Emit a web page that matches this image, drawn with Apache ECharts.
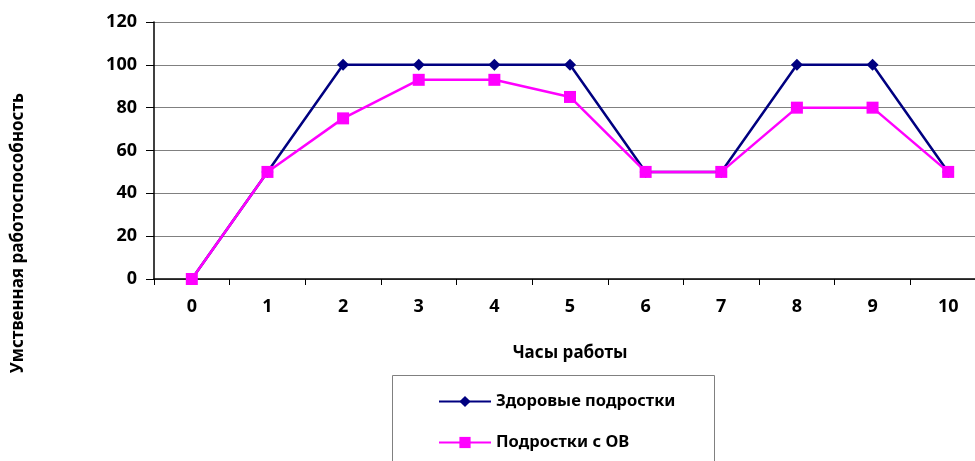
<!DOCTYPE html>
<html><head><meta charset="utf-8">
<script src="https://cdn.jsdelivr.net/npm/echarts@6/dist/echarts.min.js"></script>
<style>html,body{margin:0;padding:0;background:#fff}#c{width:975px;height:461px}</style>
</head><body><div id="c"></div>
<script>
const categories = ['0','1','2','3','4','5','6','7','8','9','10'];
const healthy = [0,50,100,100,100,100,50,50,100,100,50];
const obGroup = [0,50,75,93,93,85,50,50,80,80,50];
const seriesNames = ['Здоровые подростки','Подростки с ОВ'];
const xTitle = 'Часы работы';
const yTitle = 'Умственная работоспособность';
const FONT = '"Noto Sans", "Open Sans", sans-serif';

const legendCommon = {
  orient:'vertical', left:433, itemWidth:52, itemHeight:14,
  textStyle:{fontSize:16.5, fontWeight:'bold', color:'#000', fontFamily:FONT}
};

const chart = echarts.init(document.getElementById('c'), null, {renderer:'canvas'});
chart.setOption({
  animation:false,
  backgroundColor:'#fff',
  textStyle:{fontFamily:FONT},
  grid:{left:154, top:22, right:-11, bottom:182, containLabel:false, outerBoundsMode:'none'},
  xAxis:{
    type:'category', data:categories, boundaryGap:true,
    axisLine:{lineStyle:{color:'#000', width:1.5}},
    axisTick:{show:true, length:6, lineStyle:{color:'#000'}},
    axisLabel:{margin:19, fontSize:18, fontWeight:'bold', color:'#000', fontFamily:FONT},
    splitLine:{show:false},
    name:xTitle, nameLocation:'middle', nameGap:66,
    nameTextStyle:{fontSize:17, fontWeight:'bold', color:'#000', fontFamily:FONT}
  },
  yAxis:{
    type:'value', min:0, max:120, interval:20,
    axisLine:{show:true, lineStyle:{color:'#000', width:1.5}},
    axisTick:{show:true, length:8, lineStyle:{color:'#000'}},
    axisLabel:{margin:17, fontSize:18, fontWeight:'bold', color:'#000', fontFamily:FONT},
    splitLine:{show:true, lineStyle:{color:'#808080', width:1}}
  },
  legend:[
    Object.assign({}, legendCommon, {top:388, data:[seriesNames[0]]}),
    Object.assign({}, legendCommon, {top:429, data:[seriesNames[1]]})
  ],
  graphic:[
    {type:'rect', shape:{x:392.5, y:375.5, width:322, height:100},
     style:{fill:'none', stroke:'#808080', lineWidth:1}, z:-1},
    {type:'text', x:18, y:233, rotation:Math.PI/2,
     style:{text:yTitle, fontSize:17, fontWeight:'bold', fill:'#000', fontFamily:FONT,
            align:'center', verticalAlign:'middle'}}
  ],
  series:[
    {name:seriesNames[0], type:'line', data:healthy, symbol:'diamond', symbolSize:12,
     itemStyle:{color:'#000080'}, lineStyle:{color:'#000080', width:2.5}},
    {name:seriesNames[1], type:'line', data:obGroup, symbol:'rect', symbolSize:12,
     itemStyle:{color:'#FF00FF'}, lineStyle:{color:'#FF00FF', width:2.5}}
  ]
});
</script></body></html>
